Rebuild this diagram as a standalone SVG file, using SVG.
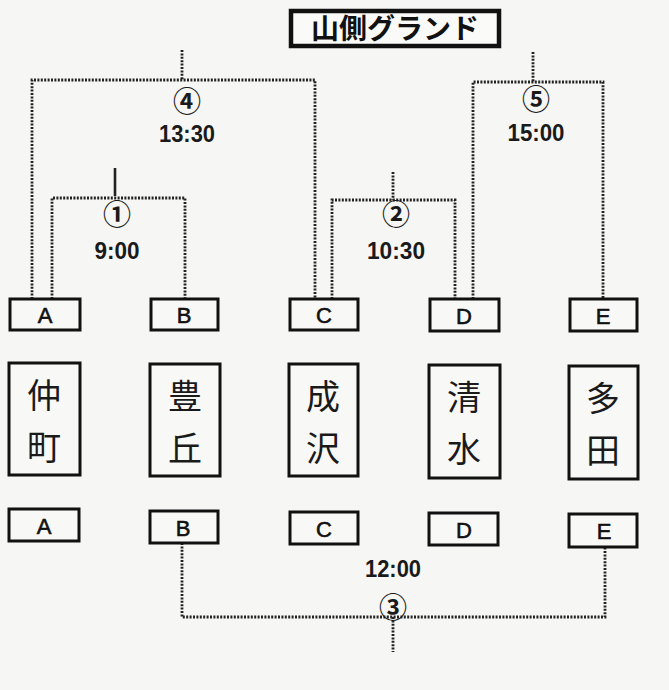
<svg xmlns="http://www.w3.org/2000/svg" width="669" height="690" viewBox="0 0 669 690">
<defs>
<style>
.bg{fill:#f6f6f4}
.box{fill:#f8f8f6;stroke:#111;stroke-width:3}
.title{fill:#fafaf8;stroke:#111;stroke-width:4.5}
.lbl{font-family:"Liberation Sans",Arial,sans-serif;font-size:22px;fill:#111;text-anchor:middle;stroke:#111;stroke-width:0.6}
.time{font-family:"Liberation Sans",Arial,sans-serif;font-size:23px;font-weight:bold;fill:#1a1a1a;text-anchor:middle}
.num{font-family:"Noto Sans CJK JP","DejaVu Sans",sans-serif;font-size:28px;font-weight:bold;fill:#1a1a1a;text-anchor:middle}
.hand{font-family:"Noto Sans CJK JP",sans-serif;font-size:34px;fill:#1a1a1a;text-anchor:middle}
.dot{fill:none;stroke:#222;stroke-width:2.8;stroke-dasharray:2 1.4}
</style>
</defs>
<rect class="bg" x="0" y="0" width="669" height="690"/>

<g id="title">
<rect class="title" x="291" y="11" width="208" height="35"/>
<text x="395" y="39" font-family="'Noto Sans CJK JP',sans-serif" font-size="28" font-weight="bold" fill="#111" text-anchor="middle">山側グランド</text>
</g>

<g id="connectors">
<path class="dot" d="M182 50V80M32 299V80H315V299"/>
<path d="M115 168V196" stroke="#222" stroke-width="2.6"/>
<path class="dot" d="M52 299V198H185V299"/>
<path class="dot" d="M393 172V200M332 299V200H455V299"/>
<path class="dot" d="M533 52V82M473 299V82H603V299"/>
<path class="dot" d="M182 543V617H605V547M393 617V652"/>
</g>

<g id="match4"><text class="num" x="187" y="112">④</text><text class="time" x="187" y="142" textLength="56" lengthAdjust="spacingAndGlyphs">13:30</text></g>
<g id="match1"><text class="num" x="117" y="225">①</text><text class="time" x="117" y="259" textLength="45" lengthAdjust="spacingAndGlyphs">9:00</text></g>
<g id="match2"><text class="num" x="396" y="225">②</text><text class="time" x="396" y="259" textLength="58" lengthAdjust="spacingAndGlyphs">10:30</text></g>
<g id="match5"><text class="num" x="536" y="110">⑤</text><text class="time" x="536" y="141" textLength="57" lengthAdjust="spacingAndGlyphs">15:00</text></g>
<g id="match3"><text class="time" x="393" y="577" textLength="56" lengthAdjust="spacingAndGlyphs">12:00</text><text class="num" x="393" y="618">③</text></g>

<g id="top-A"><rect class="box" x="10" y="299" width="70" height="31"/><text class="lbl" x="45" y="323">A</text></g>
<g id="top-B"><rect class="box" x="151" y="299" width="67" height="31"/><text class="lbl" x="184" y="323">B</text></g>
<g id="top-C"><rect class="box" x="290" y="299" width="68" height="31"/><text class="lbl" x="324" y="323">C</text></g>
<g id="top-D"><rect class="box" x="430" y="299" width="69" height="32"/><text class="lbl" x="464" y="324">D</text></g>
<g id="top-E"><rect class="box" x="570" y="299" width="67" height="32"/><text class="lbl" x="603" y="324">E</text></g>

<g id="name-A"><rect class="box" x="9" y="363" width="71" height="112"/><text class="hand" x="44" y="408">仲</text><text class="hand" x="44" y="460">町</text></g>
<g id="name-B"><rect class="box" x="150" y="364" width="70" height="112"/><text class="hand" x="185" y="409">豊</text><text class="hand" x="185" y="461">丘</text></g>
<g id="name-C"><rect class="box" x="289" y="364" width="69" height="112"/><text class="hand" x="323" y="409">成</text><text class="hand" x="323" y="461">沢</text></g>
<g id="name-D"><rect class="box" x="429" y="365" width="71" height="113"/><text class="hand" x="464" y="410">清</text><text class="hand" x="464" y="462">水</text></g>
<g id="name-E"><rect class="box" x="569" y="366" width="69" height="113"/><text class="hand" x="603" y="411">多</text><text class="hand" x="603" y="463">田</text></g>

<g id="bot-A"><rect class="box" x="9" y="509" width="70" height="32"/><text class="lbl" x="44" y="534">A</text></g>
<g id="bot-B"><rect class="box" x="150" y="511" width="68" height="32"/><text class="lbl" x="183" y="536">B</text></g>
<g id="bot-C"><rect class="box" x="290" y="512" width="68" height="32"/><text class="lbl" x="324" y="537">C</text></g>
<g id="bot-D"><rect class="box" x="429" y="513" width="69" height="32"/><text class="lbl" x="464" y="538">D</text></g>
<g id="bot-E"><rect class="box" x="569" y="514" width="68" height="33"/><text class="lbl" x="604" y="539">E</text></g>
</svg>
